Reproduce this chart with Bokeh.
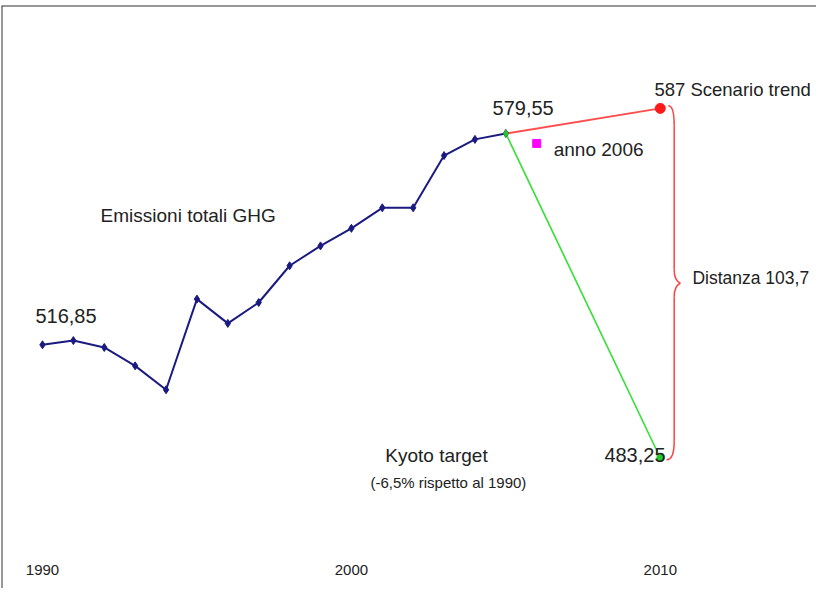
from bokeh.plotting import figure
from bokeh.models import Range1d, Span
from bokeh.core.properties import value
from bokeh.embed import file_html
from bokeh.resources import INLINE

# ---- data ----
years = [1990, 1991, 1992, 1993, 1994, 1995, 1996, 1997,
         1998, 1999, 2000, 2001, 2002, 2003, 2004, 2005]
emissions = [516.85, 518.1, 516.05, 510.6, 503.5, 530.4, 523.2, 529.4,
             540.3, 546.2, 551.4, 557.5, 557.5, 573.0, 577.8, 579.55]
year_2006 = [2006]
value_2006 = [576.6]
target_year = 2010
trend_2010 = 587
kyoto_2010 = 483.25
distance = 103.7
tick_years = [1990, 2000, 2010]
tick_labels = ["1990", "2000", "2010"]

FONT = value("Liberation Sans")
TXT = "#222222"

p = figure(width=816, height=588, output_backend="svg", toolbar_location=None,
           x_range=Range1d(1988.673, 2015.057), y_range=Range1d(444.53, 617.53),
           min_border_left=1, min_border_top=5, min_border_right=0, min_border_bottom=0)
p.xaxis.visible = False
p.yaxis.visible = False
p.xgrid.visible = False
p.ygrid.visible = False
p.outline_line_color = None
p.background_fill_color = "white"
p.border_fill_color = "white"

# frame borders (left and top)
p.add_layout(Span(location=p.x_range.start, dimension="height", line_color="#333333", line_width=2))
p.add_layout(Span(location=p.y_range.end, dimension="width", line_color="#333333", line_width=2))

last_year = years[-1]
last_val = emissions[-1]

# scenario trend (red) and kyoto target (green)
p.line([last_year, target_year], [last_val, trend_2010], line_color="#ff4d4d", line_width=2)
p.line([last_year, target_year], [last_val, kyoto_2010], line_color="#33e033", line_width=1.6)

# emissions
p.line(years, emissions, line_color="#1a1a80", line_width=2)
p.scatter(years, emissions, marker="diamond", size=8, color="#1a1a80")

p.scatter([last_year], [last_val], marker="diamond", size=7, color="#22cc22")
p.scatter([target_year], [trend_2010], marker="circle", size=10, color="#ff1a1a")
p.scatter([target_year], [kyoto_2010], marker="circle", size=7, color="#22cc22")
p.scatter(year_2006, value_2006, marker="square", size=8, color="#ff00ff")

# curly brace between trend and target
mid = (trend_2010 + kyoto_2010) / 2
bx = target_year + 0.45
tip = target_year + 0.65
bc = "#ff4040"
p.quadratic(x0=[target_year + 0.26], y0=[trend_2010 + 0.8], x1=[bx], y1=[trend_2010 - 5],
            cx=[bx], cy=[trend_2010 + 0.8], line_color=bc, line_width=1.5)
p.line([bx, bx], [trend_2010 - 5, mid + 4], line_color=bc, line_width=1.5)
p.quadratic(x0=[bx], y0=[mid + 4], x1=[tip], y1=[mid], cx=[bx], cy=[mid + 0.8],
            line_color=bc, line_width=1.5)
p.quadratic(x0=[tip], y0=[mid], x1=[bx], y1=[mid - 4], cx=[bx], cy=[mid - 0.8],
            line_color=bc, line_width=1.5)
p.line([bx, bx], [mid - 4, kyoto_2010 + 5], line_color=bc, line_width=1.5)
p.quadratic(x0=[bx], y0=[kyoto_2010 + 5], x1=[target_year + 0.2], y1=[kyoto_2010 - 0.5],
            cx=[bx], cy=[kyoto_2010 - 0.5], line_color=bc, line_width=1.5)

def fmt(v):
    return f"{v:.2f}".replace(".", ",")

def label(x, y, t, size="19px", align="left"):
    p.text(x=[x], y=[y], text=[t], text_font=FONT, text_font_size=size,
           text_color=TXT, text_baseline="middle", text_align=align)

label(years[0] - 0.23, emissions[0] + 8.4, fmt(emissions[0]), "20px")
label(last_year - 0.43, last_val + 7.7, fmt(last_val), "20px")
label(target_year - 0.19, trend_2010 + 5.6, f"{trend_2010} Scenario trend", "18.5px")
label(year_2006[0] + 0.55, 574.8, "anno 2006", "19px")
label(target_year + 1.04, mid + 1.4, "Distanza " + f"{distance}".replace(".", ","), "17.5px")
label(1991.88, 555.2, "Emissioni totali GHG", "19px")
label(2002.755, 484.0, "Kyoto target", "19px", "center")
label(2003.14, 476.0, "(-6,5% rispetto al 1990)", "15px", "center")
label(target_year - 1.81, kyoto_2010 + 0.75, fmt(kyoto_2010), "20px")

# x tick labels
p.text(x=tick_years, y=[449.9] * len(tick_years), text=tick_labels, text_font=FONT,
       text_font_size="15px", text_color=TXT, text_baseline="middle", text_align="center")

open("out.html", "w").write(file_html(p, INLINE))
